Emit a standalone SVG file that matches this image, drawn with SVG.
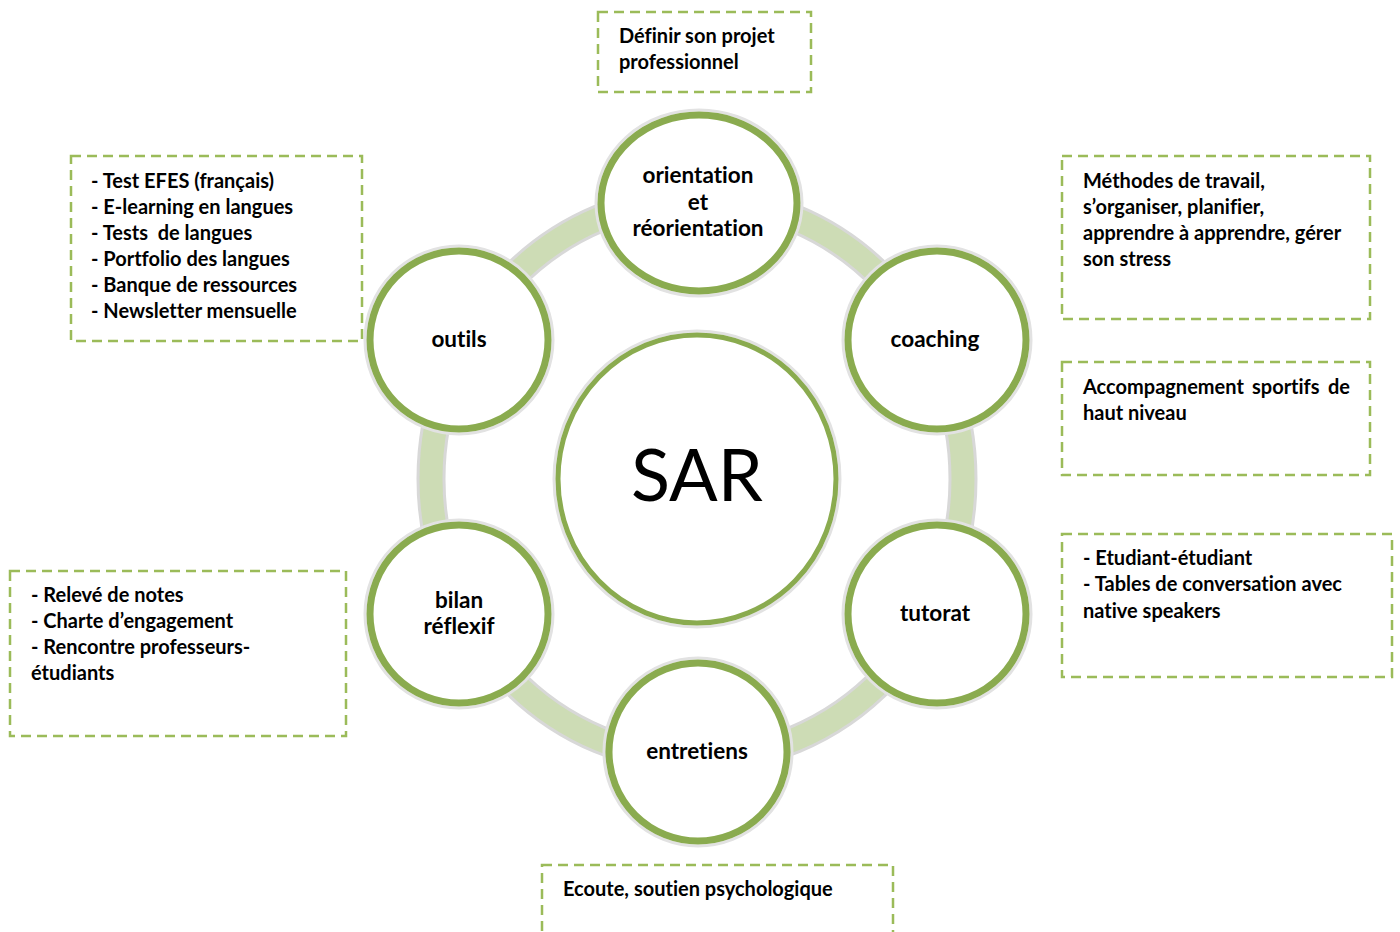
<svg xmlns="http://www.w3.org/2000/svg" width="1400" height="932" viewBox="0 0 1400 932">
<style>
text{font-variant-ligatures:none;font-feature-settings:"liga" 0,"dlig" 0}
.t{font-family:Lato,"Liberation Sans",sans-serif;font-weight:bold;font-size:20px;fill:#000}
.c{font-family:Lato,"Liberation Sans",sans-serif;font-weight:bold;font-size:22.5px;fill:#000;text-anchor:middle}
.box{fill:none;stroke:#9bbb59;stroke-width:2.5;stroke-dasharray:10 6}
.node{fill:#fff;stroke:#8aab4f;stroke-width:7}
.halo{fill:none;stroke:#e2e2e2;stroke-width:3}
</style>
<rect width="1400" height="932" fill="#fff"/>
<g id="connectors">
<ellipse cx="697" cy="479" rx="266" ry="280" fill="none" stroke="#d8d8d8" stroke-width="29"/>
<ellipse cx="697" cy="479" rx="266" ry="280" fill="none" stroke="#cddcb5" stroke-width="23"/>
</g>
<g id="sar">
<ellipse cx="697" cy="479" rx="143" ry="148" class="halo"/>
<ellipse cx="697" cy="479" rx="139" ry="144" fill="#fff" stroke="#8aab4f" stroke-width="5"/>
<text x="697" y="501" font-family="Lato,'Liberation Sans',sans-serif" font-size="72" text-anchor="middle" fill="#000">SAR</text>
</g>
<g id="orientation">
<ellipse cx="699" cy="203" rx="103" ry="93" class="halo"/>
<ellipse cx="699" cy="203" rx="98" ry="88" class="node"/>
<text class="c" x="698" y="183">orientation</text>
<text class="c" x="698" y="210">et</text>
<text class="c" x="698" y="236">réorientation</text>
</g>
<g id="coaching">
<circle cx="937" cy="340" r="94" class="halo"/>
<circle cx="937" cy="340" r="89" class="node"/>
<text class="c" x="935" y="347">coaching</text>
</g>
<g id="tutorat">
<circle cx="937" cy="614" r="94" class="halo"/>
<circle cx="937" cy="614" r="89" class="node"/>
<text class="c" x="935" y="621">tutorat</text>
</g>
<g id="entretiens">
<circle cx="698" cy="752" r="94" class="halo"/>
<circle cx="698" cy="752" r="89" class="node"/>
<text class="c" x="697" y="759">entretiens</text>
</g>
<g id="bilan">
<circle cx="459" cy="614" r="94" class="halo"/>
<circle cx="459" cy="614" r="89" class="node"/>
<text class="c" x="459" y="608">bilan</text>
<text class="c" x="459" y="634">réflexif</text>
</g>
<g id="outils">
<circle cx="459" cy="340" r="94" class="halo"/>
<circle cx="459" cy="340" r="89" class="node"/>
<text class="c" x="459" y="347">outils</text>
</g>
<g id="box-top">
<rect x="598" y="12" width="213" height="80" class="box"/>
<text class="t" x="619" y="43">Définir son projet</text>
<text class="t" x="619" y="69">professionnel</text>
</g>
<g id="box-outils">
<rect x="71" y="156" width="291" height="185" class="box"/>
<text class="t" x="91" y="188">- Test EFES (français)</text>
<text class="t" x="91" y="214">- E-learning en langues</text>
<text class="t" x="91" y="240" xml:space="preserve">- Tests  de langues</text>
<text class="t" x="91" y="266">- Portfolio des langues</text>
<text class="t" x="91" y="292">- Banque de ressources</text>
<text class="t" x="91" y="318">- Newsletter mensuelle</text>
</g>
<g id="box-coaching">
<rect x="1062" y="156" width="308" height="163" class="box"/>
<text class="t" x="1083" y="188">Méthodes de travail,</text>
<text class="t" x="1083" y="214">s’organiser, planifier,</text>
<text class="t" x="1083" y="240">apprendre à apprendre, gérer</text>
<text class="t" x="1083" y="266">son stress</text>
</g>
<g id="box-sport">
<rect x="1062" y="362" width="308" height="113" class="box"/>
<text class="t" y="394"><tspan x="1083">Accompagnement</tspan><tspan x="1252">sportifs</tspan><tspan x="1350" text-anchor="end">de</tspan></text>
<text class="t" x="1083" y="420">haut niveau</text>
</g>
<g id="box-tutorat">
<rect x="1062" y="534" width="330" height="143" class="box"/>
<text class="t" x="1083" y="565">- Etudiant-étudiant</text>
<text class="t" x="1083" y="591">- Tables de conversation avec</text>
<text class="t" x="1083" y="618">native speakers</text>
</g>
<g id="box-bilan">
<rect x="10" y="571" width="336" height="165" class="box"/>
<text class="t" x="31" y="602">- Relevé de notes</text>
<text class="t" x="31" y="628">- Charte d’engagement</text>
<text class="t" x="31" y="654">- Rencontre professeurs-</text>
<text class="t" x="31" y="680">étudiants</text>
</g>
<g id="box-entretiens">
<rect x="542" y="865" width="351" height="90" class="box"/>
<text class="t" x="563" y="896">Ecoute, soutien psychologique</text>
</g>
</svg>
